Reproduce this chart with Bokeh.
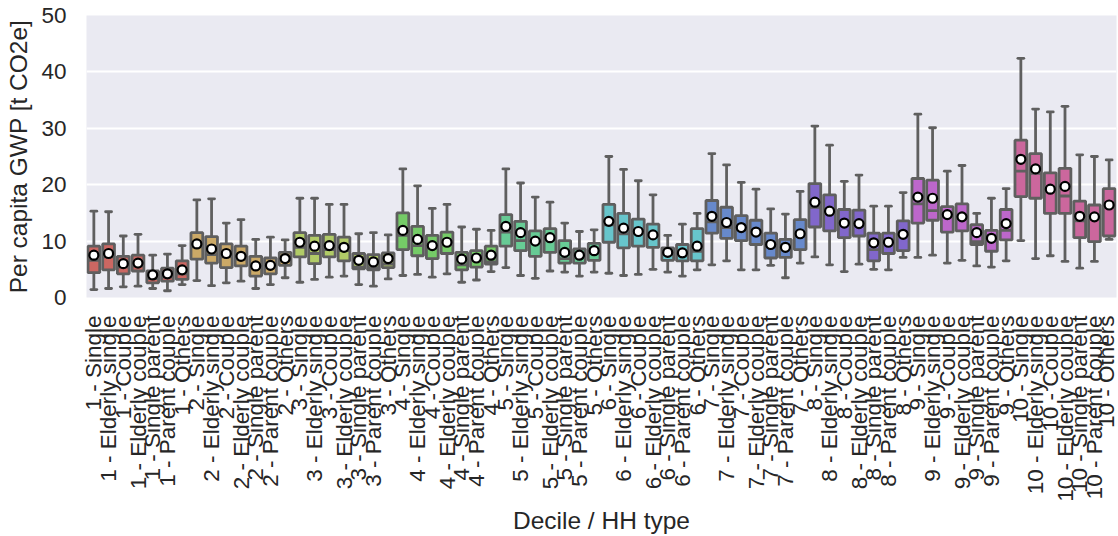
import math
from bokeh.plotting import figure
from bokeh.models import FactorRange, Range1d, ColumnDataSource
from bokeh.transform import dodge
from bokeh.embed import file_html
from bokeh.resources import INLINE

deciles = ["1", "2", "3", "4", "5", "6", "7", "8", "9", "10"]
hh_types = ["Single", "Elderly single", "Couple", "Elderly couple",
            "Single parent", "Parent couple", "Others"]
decile_colors = ["#cb6762", "#cba967", "#b1cb67", "#75cb67", "#67cb95",
                 "#67c5cb", "#6789cb", "#8167cb", "#bd67cb", "#cb679d"]
labels = [f"{d} - {t}" for d in deciles for t in hh_types]

whisker_low = [1.4, 1.6, 1.9, 2.0, 1.6, 1.2, 2.3,
               3.0, 2.1, 2.6, 2.9, 1.6, 2.3, 3.5,
               2.7, 3.2, 3.6, 3.8, 2.3, 2.0, 3.3,
               3.9, 4.1, 3.6, 4.2, 2.7, 3.1, 4.6,
               5.3, 3.9, 3.4, 4.7, 4.5, 3.8, 4.5,
               4.3, 3.9, 4.1, 5.0, 4.5, 3.8, 4.9,
               5.8, 6.5, 4.9, 4.9, 5.7, 3.5, 6.1,
               7.2, 5.8, 4.6, 5.9, 5.0, 4.9, 7.1,
               7.1, 7.5, 6.1, 6.6, 5.6, 5.4, 6.5,
               10.1, 6.9, 7.4, 6.4, 5.2, 6.4, 10.3]
q1 = [4.4, 4.9, 4.2, 4.7, 2.6, 2.9, 3.2,
      6.8, 6.1, 5.3, 5.6, 3.8, 4.2, 5.7,
      7.2, 6.0, 7.2, 6.5, 5.1, 4.9, 5.3,
      8.5, 7.4, 6.9, 7.8, 4.9, 5.4, 5.9,
      9.1, 8.3, 7.3, 8.0, 6.1, 6.1, 6.6,
      9.8, 8.8, 9.1, 8.9, 6.6, 6.5, 6.5,
      11.4, 10.5, 10.1, 9.4, 7.0, 7.1, 8.5,
      12.5, 11.8, 10.6, 10.9, 6.5, 7.8, 8.3,
      13.2, 13.7, 11.6, 11.8, 9.4, 8.2, 10.2,
      17.9, 17.6, 14.9, 14.9, 10.6, 9.9, 10.9]
median = [6.6, 7.2, 5.4, 5.6, 3.35, 3.6, 4.2,
          9.0, 7.6, 7.2, 6.8, 5.3, 5.4, 6.8,
          8.9, 7.8, 8.5, 8.3, 5.4, 5.3, 5.9,
          11.0, 9.2, 8.8, 9.4, 5.8, 6.6, 6.3,
          11.6, 10.1, 10.3, 10.4, 6.9, 7.2, 7.9,
          12.9, 11.3, 11.5, 10.8, 7.7, 7.8, 8.2,
          13.4, 12.4, 12.0, 11.3, 9.2, 8.9, 10.9,
          16.0, 14.9, 13.0, 13.0, 8.5, 9.7, 11.0,
          16.6, 15.4, 14.5, 14.0, 9.9, 10.8, 11.9,
          22.4, 22.0, 18.8, 18.0, 13.6, 14.2, 16.0]
q3 = [9.1, 9.5, 7.3, 7.5, 4.7, 5.2, 6.5,
      11.5, 10.8, 9.5, 9.1, 7.3, 7.0, 8.0,
      11.5, 11.0, 11.2, 10.7, 7.8, 7.6, 7.9,
      15.0, 12.6, 11.0, 11.6, 8.0, 8.3, 9.1,
      14.7, 13.5, 11.8, 12.2, 10.1, 8.6, 9.6,
      16.5, 14.9, 13.9, 13.0, 8.8, 9.4, 12.2,
      17.2, 16.0, 14.5, 13.7, 11.4, 10.3, 13.8,
      20.2, 18.2, 15.6, 15.5, 11.4, 11.4, 13.6,
      21.1, 20.8, 16.1, 16.6, 12.9, 11.9, 15.6,
      27.9, 25.5, 22.1, 22.9, 17.1, 16.4, 19.3]
whisker_high = [15.3, 15.2, 10.9, 11.2, 7.5, 7.7, 9.2,
                17.3, 17.5, 13.2, 13.8, 10.3, 10.7, 10.2,
                17.6, 17.6, 16.5, 16.5, 11.3, 11.5, 11.1,
                22.8, 19.8, 15.8, 16.5, 12.5, 12.1, 11.9,
                22.8, 20.3, 17.8, 16.9, 13.2, 11.7, 12.0,
                25.0, 22.7, 20.7, 18.2, 11.0, 13.0, 14.9,
                25.5, 23.5, 20.4, 19.2, 15.7, 14.8, 18.8,
                30.4, 27.0, 20.6, 21.7, 16.2, 16.2, 18.6,
                32.5, 30.1, 22.4, 23.4, 14.9, 17.6, 19.3,
                42.4, 33.4, 32.9, 33.9, 25.3, 25.0, 24.4]
mean = [7.5, 7.8, 6.0, 6.1, 4.0, 4.2, 4.9,
        9.5, 8.6, 7.8, 7.3, 5.6, 5.7, 6.9,
        9.8, 9.1, 9.2, 8.9, 6.6, 6.3, 6.9,
        11.9, 10.3, 9.2, 9.8, 6.8, 7.0, 7.5,
        12.6, 11.5, 10.0, 10.6, 8.0, 7.5, 8.3,
        13.5, 12.3, 11.7, 11.1, 8.0, 7.9, 9.1,
        14.4, 13.3, 12.4, 11.6, 9.4, 8.9, 11.3,
        16.9, 15.3, 13.2, 13.1, 9.7, 9.8, 11.2,
        17.8, 17.6, 14.7, 14.3, 11.5, 10.5, 13.1,
        24.5, 22.8, 19.2, 19.7, 14.4, 14.3, 16.4]

colors = [c for c in decile_colors for _ in hh_types]
src = ColumnDataSource(dict(x=labels, low=whisker_low, q1=q1, med=median,
                            q3=q3, high=whisker_high, mean=mean, color=colors))

EDGE = "#5f5f5f"
LW = 2.8
FONT = "Liberation Sans"
TXT = "#262626"

p = figure(width=1118, height=536,
           x_range=FactorRange(*labels, range_padding=0, factor_padding=0),
           y_range=Range1d(0, 50),
           output_backend="svg", toolbar_location=None,
           min_border_left=86, min_border_right=2,
           min_border_top=15, min_border_bottom=239)

# whiskers
p.segment(x0="x", y0="q3", x1="x", y1="high", source=src,
          line_color=EDGE, line_width=LW)
p.segment(x0="x", y0="q1", x1="x", y1="low", source=src,
          line_color=EDGE, line_width=LW)
# caps
p.segment(x0=dodge("x", -0.2, range=p.x_range), y0="high",
          x1=dodge("x", 0.2, range=p.x_range), y1="high", source=src,
          line_color=EDGE, line_width=LW, line_cap="round")
p.segment(x0=dodge("x", -0.2, range=p.x_range), y0="low",
          x1=dodge("x", 0.2, range=p.x_range), y1="low", source=src,
          line_color=EDGE, line_width=LW, line_cap="round")
# boxes
p.vbar(x="x", bottom="q1", top="q3", width=0.8, source=src,
       fill_color="color", line_color=EDGE, line_width=LW)
# medians
p.segment(x0=dodge("x", -0.4, range=p.x_range), y0="med",
          x1=dodge("x", 0.4, range=p.x_range), y1="med", source=src,
          line_color=EDGE, line_width=LW)
# means
p.scatter(x="x", y="mean", source=src, marker="circle", size=9,
          fill_color="white", line_color="black", line_width=2.2)

p.background_fill_color = "#eaeaf2"
p.border_fill_color = "white"
p.outline_line_color = None
p.xgrid.grid_line_color = None
p.ygrid.grid_line_color = "white"
p.ygrid.grid_line_width = 2
p.yaxis.ticker = [0, 10, 20, 30, 40, 50]

for ax in (p.xaxis, p.yaxis):
    ax.axis_line_color = None
    ax.major_tick_line_color = None
    ax.minor_tick_line_color = None
    ax.major_tick_out = 0
    ax.major_tick_in = 0
    ax.major_label_text_font = FONT
    ax.major_label_text_font_size = "22.5px"
    ax.major_label_text_color = TXT
    ax.axis_label_text_font = FONT
    ax.axis_label_text_font_size = "24.5px"
    ax.axis_label_text_font_style = "normal"
    ax.axis_label_text_color = TXT

p.xaxis.major_label_orientation = math.pi / 2
p.xaxis.major_label_standoff = 18
p.yaxis.major_label_standoff = 20
p.xaxis.axis_label = "Decile / HH type"
p.yaxis.axis_label = "Per capita GWP [t CO2e]"
p.xaxis.axis_label_standoff = 2
p.yaxis.axis_label_standoff = 6

open("out.html", "w").write(file_html(p, INLINE))
